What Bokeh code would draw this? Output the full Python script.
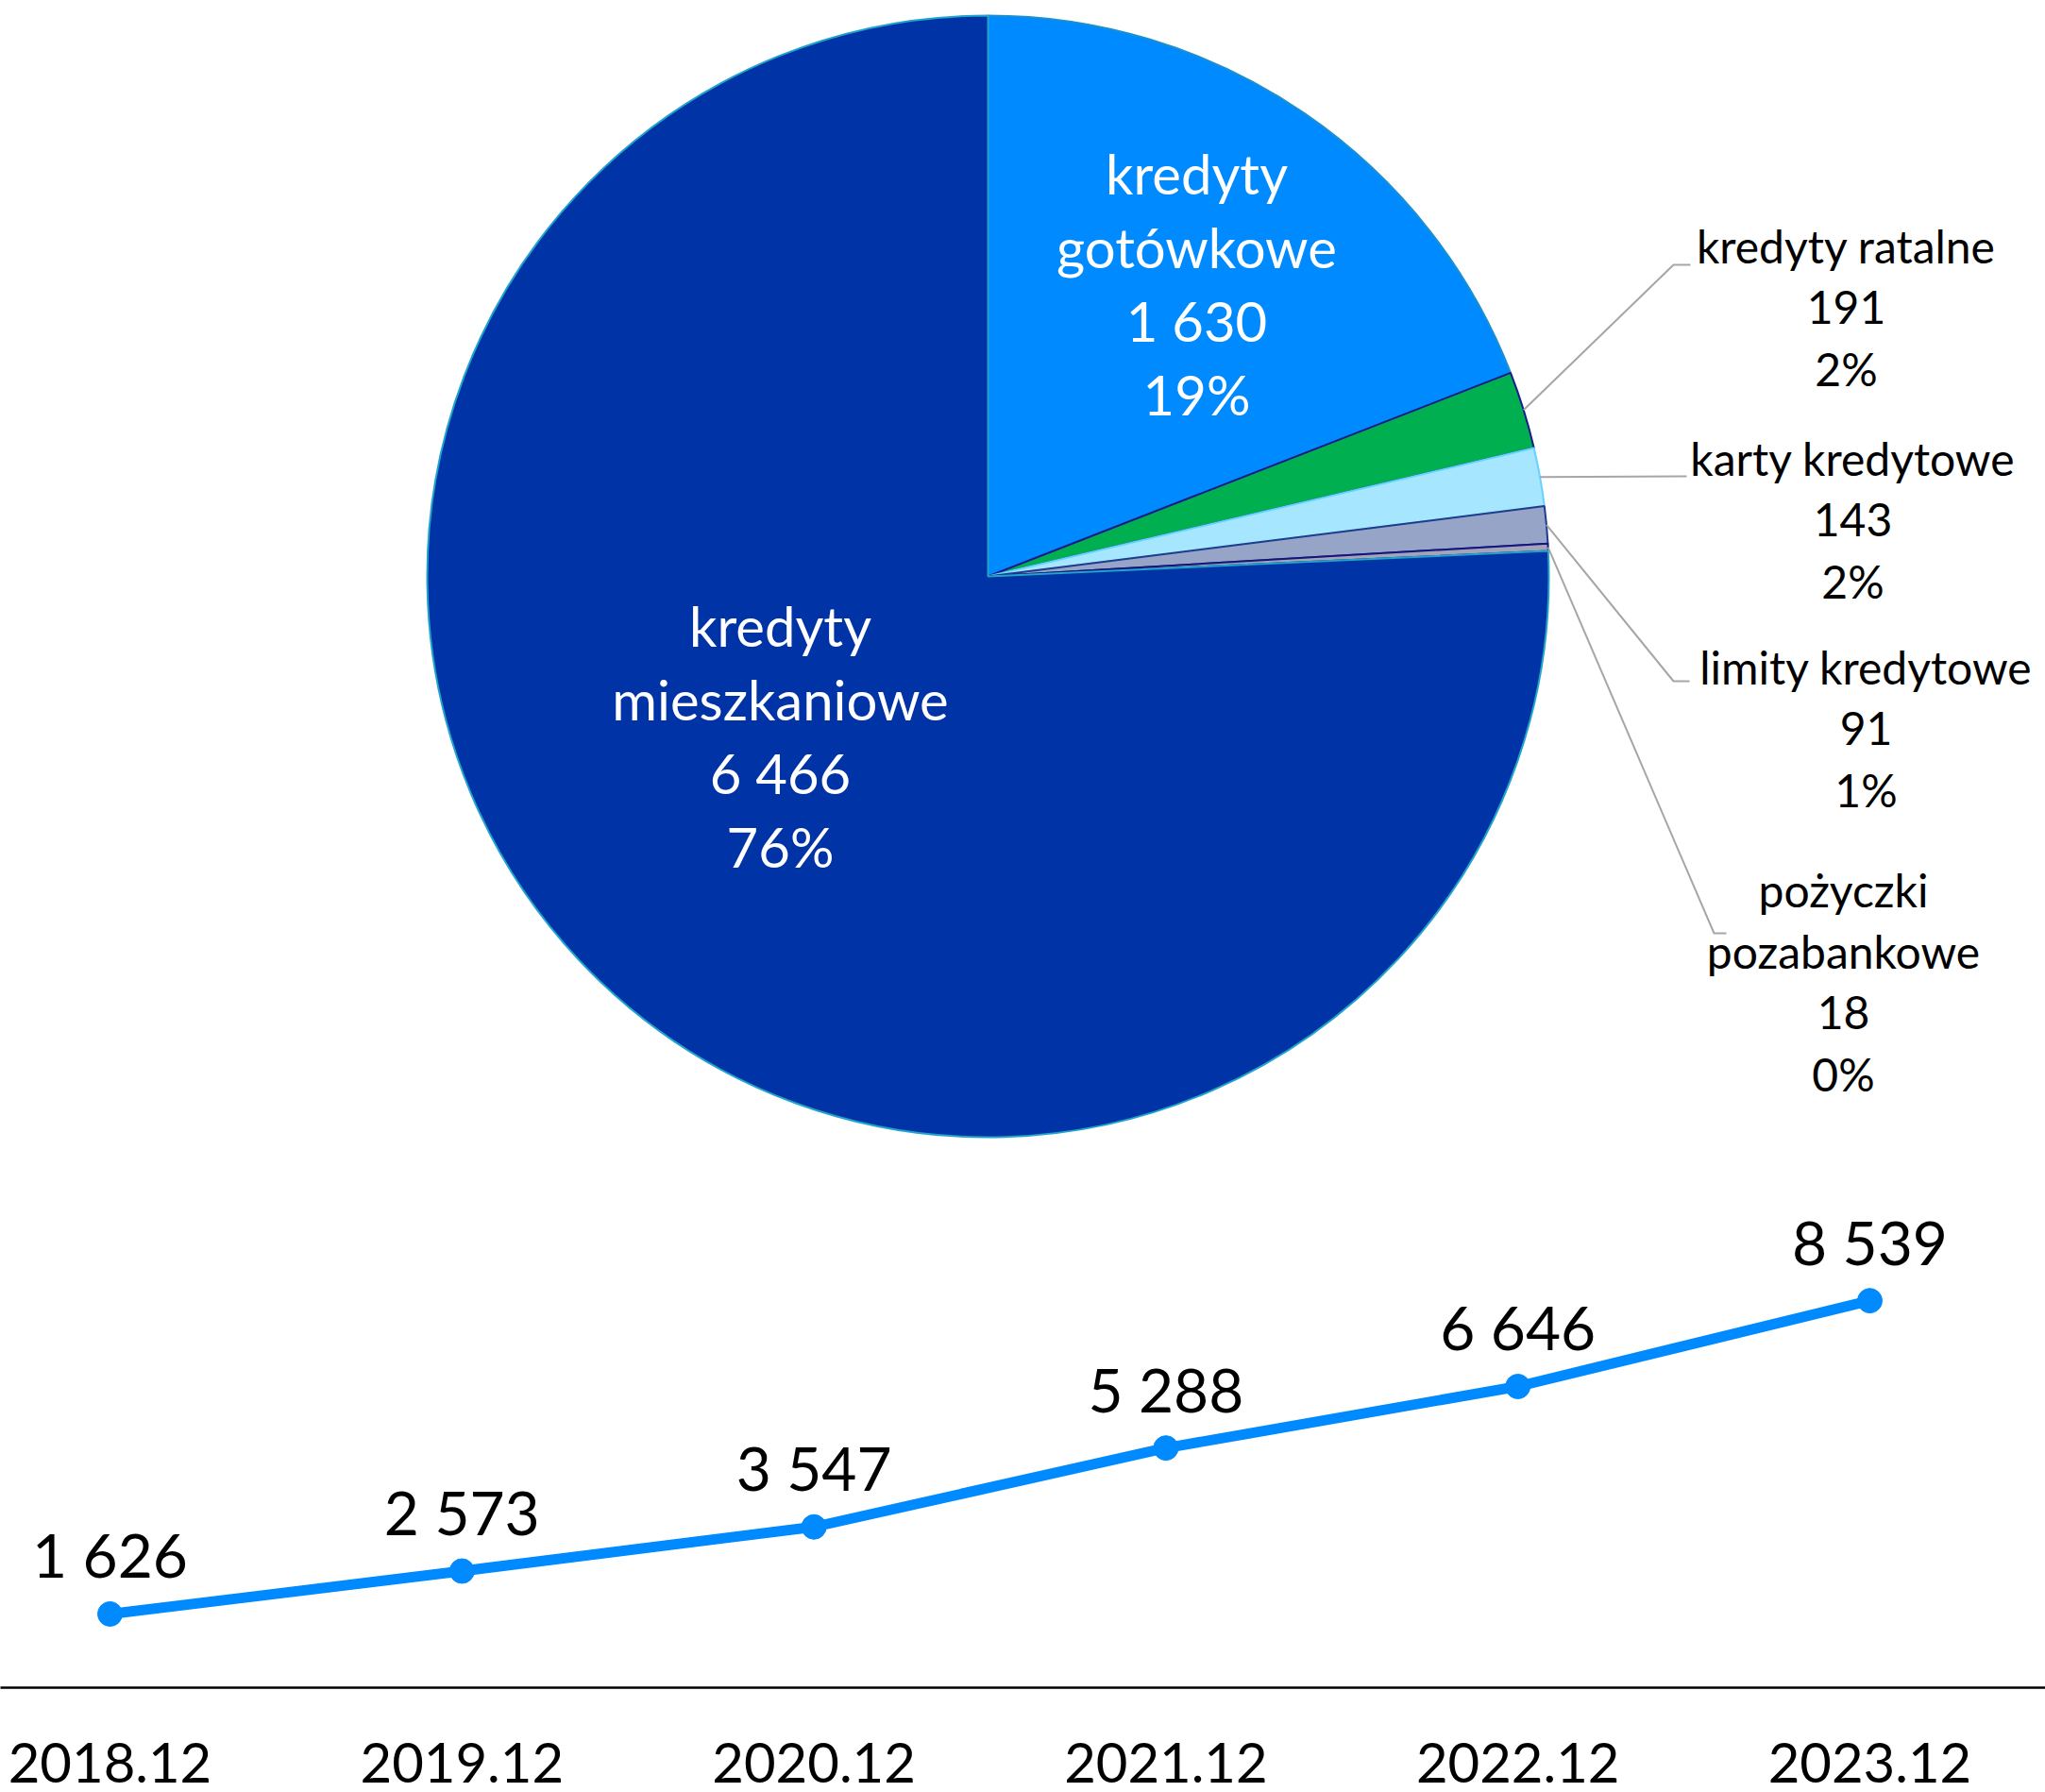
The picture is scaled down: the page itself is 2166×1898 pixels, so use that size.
import math
from bokeh.plotting import figure
from bokeh.layouts import column
from bokeh.models import Range1d, FixedTicker, ColumnDataSource
from bokeh.core.properties import value
from bokeh.embed import file_html
from bokeh.resources import INLINE

# ---------------- data ----------------
segment_names = ["kredyty gotówkowe", "kredyty ratalne", "karty kredytowe",
                 "limity kredytowe", "pożyczki pozabankowe", "kredyty mieszkaniowe"]
segment_values = [1630, 191, 143, 91, 18, 6466]
segment_label_lines = [["kredyty", "gotówkowe"], ["kredyty ratalne"], ["karty kredytowe"],
                       ["limity kredytowe"], ["pożyczki", "pozabankowe"], ["kredyty", "mieszkaniowe"]]

periods = ["2018.12", "2019.12", "2020.12", "2021.12", "2022.12", "2023.12"]
totals = [1626, 2573, 3547, 5288, 6646, 8539]

# ---------------- styles / layout ----------------
seg_fill = ["#008AFF", "#00B050", "#A6E6FF", "#96A4C7", "#A4A4B8", "#0033A6"]
seg_line = ["#1C8FD0", "#1A1A8A", "#66D2FF", "#1F3C8C", "#15157E", "#20A4CC"]
seg_inside = [True, False, False, False, False, True]
# label anchor (page px): x centre, first baseline, line pitch
seg_label_pos = [(1267, 206, 78), (1955, 279, 65), (1962, 504, 65),
                 (1976, 725, 65), (1952, 961, 65), (826, 685, 78)]
# leader line elbow / end (page px) for outside labels
seg_leader = [None, [(1772, 280), (1790, 280)], [(1786, 504), (1786, 504)],
              [(1772, 721), (1789, 721)], [(1815, 988), (1828, 988)], None]

W = 2166
PIE_H = 1238
LINE_H = 660
FONT = "Lato"
IN_FS = 58
OUT_FS = 48
VAL_FS = 64
AX_FS = 58
BASE_FIX = 0.4   # svg alphabetic-baseline correction (em)


def fmt(v):
    return f"{v:,}".replace(",", " ")


def px(X, Y):
    return X, PIE_H - Y


# ---------------- pie ----------------
p = figure(width=W, height=PIE_H, x_range=Range1d(0, W), y_range=Range1d(0, PIE_H),
           output_backend="svg", toolbar_location=None, min_border=0,
           x_axis_location=None, y_axis_location=None)
p.grid.visible = False
p.outline_line_color = None

cx, cy = px(1046, 610)
r = 594
total = sum(segment_values)
cum = 0
starts, ends, mids = [], [], []
for v in segment_values:
    a0 = cum / total * 2 * math.pi
    cum += v
    a1 = cum / total * 2 * math.pi
    starts.append(math.pi / 2 - a0)
    ends.append(math.pi / 2 - a1)
    mids.append(math.pi / 2 - (a0 + a1) / 2)

src = ColumnDataSource(dict(start=starts, end=ends, fill=seg_fill, line=seg_line))
p.wedge(x=cx, y=cy, radius=r, start_angle="start", end_angle="end", direction="clock",
        fill_color="fill", line_color="line", line_width=2, source=src)

# leader lines
lxs, lys = [], []
for i, ld in enumerate(seg_leader):
    if ld is None:
        continue
    sx = cx + r * math.cos(mids[i])
    sy = cy + r * math.sin(mids[i])
    xs, ys = [sx], [sy]
    for (X, Y) in ld:
        a, b = px(X, Y)
        xs.append(a)
        ys.append(b)
    lxs.append(xs)
    lys.append(ys)
p.multi_line(xs=lxs, ys=lys, line_color="#A6A6A6", line_width=2)

# labels
for inside_flag in (True, False):
    fs = IN_FS if inside_flag else OUT_FS
    tx, ty, tt = [], [], []
    for i, v in enumerate(segment_values):
        if seg_inside[i] != inside_flag:
            continue
        lines = segment_label_lines[i] + [fmt(v), f"{round(100 * v / total)}%"]
        X, Y0, pitch = seg_label_pos[i]
        for k, s in enumerate(lines):
            a, b = px(X, Y0 + k * pitch)
            tx.append(a)
            ty.append(b + BASE_FIX * fs)
            tt.append(s)
    p.text(x=tx, y=ty, text=tt, text_align="center", text_baseline="alphabetic",
           text_font=value(FONT), text_font_size=f"{fs}px",
           text_color="white" if inside_flag else "black")

# ---------------- line chart ----------------
idx = list(range(len(periods)))
px_per_unit = 0.048
axis_h = 111
frame_h = LINE_H - axis_h
q = figure(width=W, height=LINE_H, x_range=Range1d(-0.3112, 5.499),
           y_range=Range1d(0, frame_h / px_per_unit),
           output_backend="svg", toolbar_location=None, min_border=0,
           min_border_bottom=axis_h, y_axis_location=None)
q.grid.visible = False
q.outline_line_color = None
q.xaxis.ticker = FixedTicker(ticks=idx)
q.xaxis.major_label_overrides = {i: periods[i] for i in idx}
q.xaxis.major_tick_line_color = None
q.xaxis.minor_tick_line_color = None
q.xaxis.axis_line_color = "black"
q.xaxis.axis_line_width = 2.5
q.xaxis.major_label_text_font = FONT
q.xaxis.major_label_text_font_size = f"{AX_FS}px"
q.xaxis.major_label_text_color = "black"
q.xaxis.major_label_text_line_height = 0.9
q.xaxis.major_label_standoff = 52

q.line(x=idx, y=totals, line_width=11, line_color="#008AFF")
q.scatter(x=idx, y=totals, size=26, fill_color="#008AFF", line_color="#008AFF")
q.text(x=idx, y=totals, text=[fmt(t) for t in totals], y_offset=-37 - BASE_FIX * VAL_FS,
       text_align="center", text_baseline="alphabetic", text_font=value(FONT),
       text_font_size=f"{VAL_FS}px", text_color="black")

layout = column(p, q, spacing=0)
open("out.html", "w").write(file_html(layout, INLINE))
